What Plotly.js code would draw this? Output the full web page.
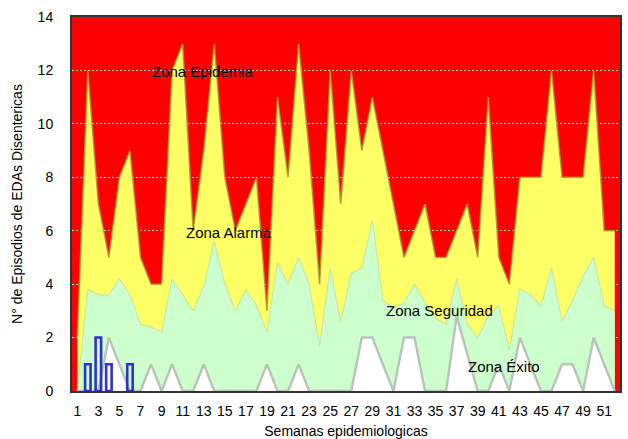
<!DOCTYPE html>
<html>
<head>
<meta charset="utf-8">
<script src="https://cdn.plot.ly/plotly-3.0.1.min.js"></script>
<style>html,body{margin:0;padding:0;background:#fff;}#chart{width:628px;height:439px;}</style>
</head>
<body>
<div id="chart"></div>
<script>
// Semanas epidemiológicas
var weeks = [];
for (var w = 1; w <= 52; w++) weeks.push(w);

// Límite superior del canal (Zona Alarma / Epidemia)
var upper = [2, 12, 7, 5, 8, 9, 5, 4, 4, 12, 13, 6, 9, 13, 8, 6, 7, 8, 3, 11,
             8, 13, 9, 4, 12, 7, 12, 9, 11, 9, 7, 5, 6, 7, 5, 5, 6, 7, 5, 11,
             5, 4, 8, 8, 8, 12, 8, 8, 8, 12, 6, 6];
// Mediana (Zona Seguridad / Alarma)
var median = [0, 3.8, 3.6, 3.6, 4.2, 3.6, 2.5, 2.4, 2.2, 4.2, 3.6, 3.0, 3.9, 5.6, 4.0, 3.0, 3.8, 3.2, 2.2, 4.8,
              4.0, 5.0, 4.0, 1.7, 4.6, 2.6, 4.4, 4.6, 6.4, 3.4, 3.1, 3.3, 4.0, 3.3, 2.7, 2.5, 4.2, 2.5, 2.0, 2.8,
              3.2, 1.5, 3.8, 3.6, 3.2, 4.6, 2.6, 3.4, 4.3, 5.0, 3.2, 3.0];
// Límite inferior (Zona Éxito / Seguridad)
var lower = [0, 0, 0, 2, 1, 0, 0, 1, 0, 1, 0, 0, 1, 0, 0, 0, 0, 0, 1, 0,
             0, 1, 0, 0, 0, 0, 0, 2, 2, 1, 0, 2, 2, 0, 0, 0, 2.8, 1.4, 0, 0,
             1, 0, 2, 1, 0, 0, 1, 1, 0, 2, 1, 0];
// Casos observados
var obsWeeks = [1, 2, 3, 4, 5, 6];
var observed = [0, 1, 2, 1, 0, 1];

var xTicks = weeks.filter(function (v) { return v % 2 === 1; });
var yTicks = [0, 2, 4, 6, 8, 10, 12, 14];

var zones = [
  {text: 'Zona Epidemia', x: 12.9, y: 11.95},
  {text: 'Zona Alarma', x: 15.4, y: 5.93},
  {text: 'Zona Seguridad', x: 35.4, y: 3.03},
  {text: 'Zona Éxito', x: 41.45, y: 0.91}
];

var FONT = 'Liberation Sans, Arial, sans-serif';

var traces = [
  {x: weeks, y: upper, type: 'scatter', mode: 'lines', fill: 'tozeroy',
   fillcolor: '#ffff66', line: {color: 'rgba(175,150,40,0.8)', width: 1.6}, hoverinfo: 'skip'},
  {x: weeks, y: median, type: 'scatter', mode: 'lines', fill: 'tozeroy',
   fillcolor: '#ccffcc', line: {color: '#c4e8a8', width: 1.2}, hoverinfo: 'skip'},
  {x: weeks, y: lower, type: 'scatter', mode: 'lines', fill: 'tozeroy',
   fillcolor: '#ffffff', line: {color: '#b8c4b8', width: 2.4}, hoverinfo: 'skip'},
  {x: obsWeeks, y: observed.map(function (v) { return v === 0 ? null : v; }),
   type: 'bar', xaxis: 'x2', yaxis: 'y', width: 0.52,
   marker: {color: 'rgba(0,0,0,0)', line: {color: '#3030cc', width: 2.6}}, hoverinfo: 'skip'}
];

var layout = {
  width: 628, height: 439,
  paper_bgcolor: '#ffffff',
  plot_bgcolor: '#ff0000',
  margin: {l: 72, r: 8, t: 17, b: 48},
  showlegend: false,
  font: {family: FONT, size: 14, color: '#000'},
  xaxis: {
    range: [0.5, 52.5], tickmode: 'array', tickvals: xTicks, ticktext: xTicks.map(String),
    showgrid: false, zeroline: false, showline: true, linecolor: '#333333', linewidth: 2,
    mirror: true, ticks: '', ticklabelstandoff: 6,
    tickfont: {family: FONT, size: 14, color: '#000'},
    title: {text: 'Semanas epidemiologicas', font: {family: FONT, size: 14, color: '#000'}, standoff: 8}
  },
  xaxis2: {range: [0.5, 52.5], overlaying: 'x', visible: false},
  yaxis: {
    range: [0, 14], tickmode: 'array', tickvals: yTicks, ticktext: yTicks.map(String),
    showgrid: true, gridcolor: '#d4d4d4', griddash: '2px,2px', gridwidth: 1,
    zeroline: false, showline: true, linecolor: '#333333', linewidth: 2, mirror: true,
    ticks: '', ticklabelstandoff: 14,
    tickfont: {family: FONT, size: 14, color: '#000'},
    title: {text: 'N° de Episodios de EDAs Disentericas', font: {family: FONT, size: 14, color: '#000'}, standoff: 12}
  },
  annotations: zones.map(function (z) {
    return {text: z.text, x: z.x, y: z.y, xref: 'x', yref: 'y', showarrow: false,
            xanchor: 'center', yanchor: 'middle', font: {family: FONT, size: 15, color: '#000'}};
  })
};

Plotly.newPlot('chart', traces, layout, {staticPlot: true, displayModeBar: false});
</script>
</body>
</html>
